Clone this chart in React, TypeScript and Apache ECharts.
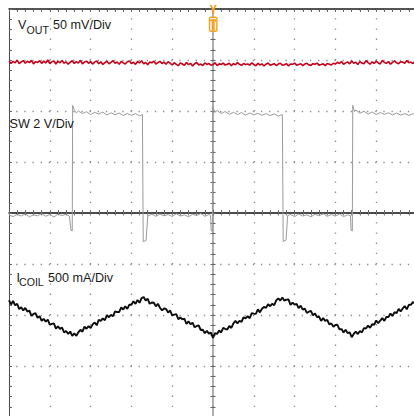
import React, { useEffect, useRef } from "react";
import * as echarts from "echarts";

// ---- Scope setup (screen divisions) ----
const X_DIVS = 10;
const Y_DIVS_HALF = 4;
const SAMPLE_STEP_DIV = 0.05; // sample spacing of VOUT / ICOIL records, in time divisions

// ---- Channel 1: VOUT ripple, mV (AC), 50 mV/Div ----
const VOUT_MV_PER_DIV = 50;
const VOUT_POSITION_DIV = 2.94;
const VOUT_MV = [
  2.1, -0.4, 1.6, 0.2, 2.8, -0.6, 1.2, 2.4, -0.2, 1.8, 0.4, 2.6, -0.8, 1.4, 0.6, 2.2, -0.3, 1.9, 0.1, 3.0,
  -0.5, 1.3, 2.0, -0.9, 1.7, 0.3, 2.5, -0.1, 1.1, -1.2, 0.8, 2.3, -0.4, 1.5, 0.0, 2.7, -0.7, 1.0, 1.9, -0.2,
  1.4, -1.0, 0.9, 2.1, -0.6, 1.2, -1.4, 0.5, 1.8, -0.8, 0.7, 2.4, -0.3, 1.0, -1.1, 1.6, 0.2, -0.9, 1.3, 2.0,
  -0.5, 0.8, -1.3, 1.5, 0.1, 2.2, -0.7, 0.6, -1.6, 1.1, 0.3, 1.9, -0.9, 0.4, 1.7, -0.4, 0.9, -1.2, 1.4, 0.0,
  -1.9, 0.4, -1.2, -2.6, 0.2, -0.9, -2.2, 0.6, -1.5, -0.3, -2.8, -0.7, 0.5, -1.8, -1.0, -2.4, 0.1, -1.3, -0.5, -2.1,
  -1.6, 0.3, -2.5, -0.8, -1.4, 0.0, -2.0, -1.1, -0.2, -2.7, -0.6, -1.7, 0.4, -1.2, -2.3, -0.4, -1.5, -0.9, -2.0, 0.2,
  -1.4, -2.6, -0.3, -1.9, -0.8, -2.9, -1.1, 0.1, -2.2, -1.5, -0.6, -2.4, -1.0, -0.2, -2.0, -1.7, -0.5, -2.8, -0.9, -1.3,
  0.0, -2.1, -1.4, -0.7, -2.5, -1.0, -0.3, -1.8, -2.3, -0.6, -1.2, -0.1, -2.0, -1.5, -0.8, -2.6, -0.4, -1.1, -1.9, -0.2,
  -1.0, 0.8, -0.5, 1.6, -1.3, 0.2, 1.1, -0.8, 2.0, -0.2, 0.9, -1.5, 1.4, 0.0, -0.7, 2.3, 0.5, -1.1, 1.2, -0.4,
  1.8, 0.1, -0.9, 2.6, 0.6, -0.3, 1.5, -1.2, 0.7, 2.1, 0.2, -0.6, 1.3, 0.9, -0.1, 2.4, 0.4, 1.0, -0.5, 1.7,
  0.8,
];

// ---- Channel 2: SW node, volts, 2 V/Div. [time div, volts] ----
const SW_V_PER_DIV = 2;
const SW_POSITION_DIV = 0;
const SW_POINTS: [number, number][] = [
  [0, -0.08], [0.1, -0.14], [0.2, -0.05], [0.3, -0.12], [0.4, -0.03], [0.5, -0.15], [0.6, -0.07], [0.7, -0.11],
  [0.8, -0.02], [0.9, -0.13], [1.0, -0.06], [1.1, -0.16], [1.2, -0.04], [1.3, -0.1], [1.4, -0.05], [1.48, -0.12],
  [1.52, -0.68], [1.55, -0.7],
  [1.56, 4.22], [1.6, 4.05], [1.65, 3.92], [1.7, 4.0], [1.8, 3.9], [1.9, 3.97], [2.0, 3.86], [2.1, 3.95], [2.2, 3.88],
  [2.3, 3.96], [2.4, 3.84], [2.5, 3.93], [2.6, 3.85], [2.7, 3.92], [2.8, 3.82], [2.9, 3.9], [3.0, 3.83], [3.1, 3.9],
  [3.2, 3.81], [3.27, 3.86],
  [3.29, -1.12], [3.36, -1.08], [3.4, -0.12],
  [3.5, -0.05], [3.6, -0.13], [3.7, -0.04], [3.8, -0.11], [3.9, -0.06], [4.0, -0.14], [4.1, -0.03], [4.2, -0.12],
  [4.3, -0.07], [4.4, -0.15], [4.5, -0.05], [4.6, -0.1], [4.7, -0.02], [4.8, -0.13], [4.9, -0.06], [4.94, -0.1],
  [4.955, -0.7], [4.985, -0.72],
  [4.995, 4.2], [5.04, 3.94], [5.1, 4.02], [5.2, 3.9], [5.3, 3.98], [5.4, 3.87], [5.5, 3.95], [5.6, 3.86], [5.7, 3.94],
  [5.8, 3.84], [5.9, 3.92], [6.0, 3.85], [6.1, 3.91], [6.2, 3.83], [6.3, 3.9], [6.4, 3.82], [6.5, 3.89], [6.6, 3.8],
  [6.7, 3.86],
  [6.72, -1.12], [6.79, -1.06], [6.83, -0.1],
  [6.9, -0.06], [7.0, -0.14], [7.1, -0.04], [7.2, -0.12], [7.3, -0.07], [7.4, -0.15], [7.5, -0.05], [7.6, -0.11],
  [7.7, -0.03], [7.8, -0.13], [7.9, -0.06], [8.0, -0.12], [8.1, -0.04], [8.2, -0.14], [8.3, -0.07], [8.37, -0.11],
  [8.385, -0.68], [8.415, -0.7],
  [8.425, 4.22], [8.47, 3.97], [8.5, 4.04], [8.6, 3.91], [8.7, 3.99], [8.8, 3.88], [8.9, 3.96], [9.0, 3.86],
  [9.1, 3.94], [9.2, 3.87], [9.3, 3.93], [9.4, 3.85], [9.5, 3.92], [9.6, 3.84], [9.7, 3.9], [9.8, 3.83], [9.9, 3.89],
  [10, 3.84],
];

// ---- Channel 3: ICOIL, mA, 500 mA/Div ----
const ICOIL_MA_PER_DIV = 500;
const ICOIL_POSITION_DIV = -4;
const ICOIL_MA = [
  1145, 1104, 1137, 1095, 1109, 1058, 1077, 1045, 1069, 1034,
  1043, 991, 1011, 1017, 973, 988, 943, 962, 935, 955,
  906, 913, 918, 866, 889, 864, 877, 830, 843, 815,
  838, 796, 819, 796, 830, 855, 836, 885, 865, 891,
  872, 908, 927, 899, 953, 942, 966, 949, 998, 978,
  1001, 988, 1036, 1029, 1028, 1075, 1054, 1085, 1060, 1101,
  1100, 1135, 1109, 1147, 1120, 1165, 1176, 1143, 1159, 1110,
  1122, 1120, 1085, 1110, 1071, 1045, 1064, 1060, 1025, 1044,
  997, 1004, 1009, 959, 976, 957, 963, 912, 939, 910,
  925, 879, 893, 897, 853, 856, 822, 845, 818, 828,
  775, 822, 814, 848, 829, 874, 865, 857, 893, 873,
  919, 942, 918, 944, 933, 978, 966, 990, 968, 1018,
  1014, 1011, 1055, 1026, 1061, 1080, 1070, 1106, 1086, 1110,
  1097, 1143, 1163, 1142, 1171, 1140, 1150, 1153, 1099, 1122,
  1101, 1108, 1068, 1092, 1053, 1062, 1020, 1032, 1041, 997,
  1015, 981, 983, 943, 969, 943, 953, 908, 918, 884,
  902, 904, 860, 862, 828, 855, 823, 829, 783, 814,
  837, 813, 843, 829, 871, 868, 897, 874, 909, 904,
  946, 920, 946, 969, 942, 982, 981, 1015, 990, 1028,
  1019, 1060, 1035, 1064, 1087, 1056, 1100, 1099, 1127, 1113,
  1139,
];

// ---- Channel labels ----
const LABEL_VOUT = { main: "V", sub: "OUT", scale: "50 mV/Div" };
const LABEL_SW = "SW 2 V/Div";
const LABEL_ICOIL = { main: "I", sub: "COIL", scale: "500 mA/Div" };

const FONT = '"Liberation Sans", Arial, Helvetica, sans-serif';
const TRIG = "#f4a11e";

const voutData = VOUT_MV.map((v, i) => [i * SAMPLE_STEP_DIV, VOUT_POSITION_DIV + v / VOUT_MV_PER_DIV]);
const swData = SW_POINTS.map(([t, v]) => [t, SW_POSITION_DIV + v / SW_V_PER_DIV]);
const icoilData = ICOIL_MA.map((v, i) => [i * SAMPLE_STEP_DIV, ICOIL_POSITION_DIV + v / ICOIL_MA_PER_DIV]);

const noLabel = { show: false };

function buildOption(): any {
  const xBase = { type: "value", min: 0, max: X_DIVS, interval: 1, axisLabel: noLabel, splitArea: { show: false } };
  const yBase = { type: "value", min: -Y_DIVS_HALF, max: Y_DIVS_HALF, interval: 1, axisLabel: noLabel, splitArea: { show: false } };
  return {
    animation: false,
    backgroundColor: "#ffffff",
    grid: { left: 9, top: 9, width: 408, height: 408, containLabel: false, outerBoundsMode: "none", show: false },
    xAxis: [
      {
        ...xBase,
        position: "top",
        axisLine: { show: true, onZero: false, lineStyle: { color: "#1e1e1e", width: 1.5 } },
        axisTick: { show: true, inside: true, length: 3, lineStyle: { color: "#666", width: 1 } },
        minorTick: { show: true, splitNumber: 5, length: 3, lineStyle: { color: "#666", width: 1 } },
        splitLine: { show: true, lineStyle: { color: "#8a8a8a", width: 1.3, type: [1.3, 8.9], dashOffset: 0.65 } },
        minorSplitLine: { show: false },
      },
      {
        ...xBase,
        position: "bottom",
        offset: -204,
        axisLine: { show: true, onZero: false, lineStyle: { color: "#111", width: 1.5 } },
        axisTick: { show: true, inside: true, length: 3, lineStyle: { color: "#666", width: 1 } },
        minorTick: { show: true, splitNumber: 5, length: 3, lineStyle: { color: "#666", width: 1 } },
        splitLine: { show: false },
      },
      {
        ...xBase,
        position: "bottom",
        offset: -204,
        axisLine: { show: false, onZero: false },
        axisTick: { show: true, inside: false, length: 2.5, lineStyle: { color: "#777", width: 1 } },
        minorTick: { show: true, splitNumber: 5, length: 2.5, lineStyle: { color: "#777", width: 1 } },
        splitLine: { show: false },
      },
    ],
    yAxis: [
      {
        ...yBase,
        position: "left",
        axisLine: { show: true, onZero: false, lineStyle: { color: "#4a4a4a", width: 1 } },
        axisTick: { show: true, inside: true, length: 3, lineStyle: { color: "#666", width: 1 } },
        minorTick: { show: true, splitNumber: 5, length: 3, lineStyle: { color: "#666", width: 1 } },
        splitLine: { show: true, lineStyle: { color: "#8a8a8a", width: 1.3, type: [1.3, 6.86], dashOffset: 0.65 } },
        minorSplitLine: { show: false },
      },
      {
        ...yBase,
        position: "right",
        offset: -204,
        axisLine: { show: true, onZero: false, lineStyle: { color: "#9c9c9c", width: 1.6 } },
        axisTick: { show: true, inside: true, length: 2.5, lineStyle: { color: "#666", width: 1 } },
        minorTick: { show: true, splitNumber: 5, length: 2.5, lineStyle: { color: "#666", width: 1 } },
        splitLine: { show: false },
      },
      {
        ...yBase,
        position: "right",
        offset: -204,
        axisLine: { show: false, onZero: false },
        axisTick: { show: true, inside: false, length: 2.5, lineStyle: { color: "#666", width: 1 } },
        minorTick: { show: true, splitNumber: 5, length: 2.5, lineStyle: { color: "#666", width: 1 } },
        splitLine: { show: false },
      },
    ],
    series: [
      {
        name: "ICOIL",
        type: "line",
        xAxisIndex: 0,
        yAxisIndex: 0,
        data: icoilData,
        showSymbol: false,
        symbol: "none",
        lineStyle: { color: "#0d0d0d", width: 1.9 },
        z: 3,
      },
      {
        name: "SW",
        type: "line",
        xAxisIndex: 0,
        yAxisIndex: 0,
        data: swData,
        showSymbol: false,
        symbol: "none",
        lineStyle: { color: "#9a9a9a", width: 1 },
        z: 4,
      },
      {
        name: "VOUT",
        type: "line",
        xAxisIndex: 0,
        yAxisIndex: 0,
        data: voutData,
        showSymbol: false,
        symbol: "none",
        lineStyle: { color: "#c4001a", width: 1.6 },
        z: 5,
      },
    ],
    graphic: [
      // channel labels
      { type: "text", x: 18, y: 25, z: 10, style: { text: LABEL_VOUT.main, font: `12.6px ${FONT}`, fill: "#1a1a1a", verticalAlign: "middle", textVerticalAlign: "middle" } },
      { type: "text", x: 26.6, y: 30, z: 10, style: { text: LABEL_VOUT.sub, font: `10.6px ${FONT}`, fill: "#1a1a1a", verticalAlign: "middle", textVerticalAlign: "middle" } },
      { type: "text", x: 53, y: 25, z: 10, style: { text: LABEL_VOUT.scale, font: `12.6px ${FONT}`, fill: "#1a1a1a", verticalAlign: "middle", textVerticalAlign: "middle" } },
      { type: "text", x: 9.5, y: 124.3, z: 10, style: { text: LABEL_SW, font: `12.6px ${FONT}`, fill: "#1a1a1a", verticalAlign: "middle", textVerticalAlign: "middle" } },
      { type: "text", x: 16.5, y: 277.5, z: 10, style: { text: LABEL_ICOIL.main, font: `12.6px ${FONT}`, fill: "#1a1a1a", verticalAlign: "middle", textVerticalAlign: "middle" } },
      { type: "text", x: 19, y: 281.5, z: 10, style: { text: LABEL_ICOIL.sub, font: `10.6px ${FONT}`, fill: "#1a1a1a", verticalAlign: "middle", textVerticalAlign: "middle" } },
      { type: "text", x: 48, y: 277.5, z: 10, style: { text: LABEL_ICOIL.scale, font: `12.6px ${FONT}`, fill: "#1a1a1a", verticalAlign: "middle", textVerticalAlign: "middle" } },
      // trigger position marker
      {
        type: "polygon",
        z: 10,
        shape: { points: [[209.6, 5], [211.6, 5], [213.2, 8.2], [214.8, 5], [216.8, 5], [214.3, 9.6], [214.3, 14], [212.1, 14], [212.1, 9.6]] },
        style: { fill: TRIG },
      },
      { type: "rect", z: 10, shape: { x: 208.8, y: 16.5, width: 8.8, height: 15.5, r: 2 }, style: { fill: TRIG } },
      { type: "rect", z: 11, shape: { x: 210.2, y: 18, width: 6, height: 12.4 }, style: { fill: "#ffffff" } },
      { type: "rect", z: 12, shape: { x: 210.2, y: 19.2, width: 6, height: 2.4 }, style: { fill: TRIG } },
      { type: "rect", z: 12, shape: { x: 211.7, y: 21.4, width: 3, height: 9.2 }, style: { fill: TRIG } },
    ],
  };
}

export default function App() {
  const ref = useRef<HTMLDivElement>(null);
  useEffect(() => {
    if (!ref.current) return;
    const chart = echarts.init(ref.current, null, { renderer: "svg" });
    chart.setOption(buildOption());
    return () => chart.dispose();
  }, []);
  return (
    <div
      ref={ref}
      style={{ position: "fixed", left: 0, top: 0, width: 420, height: 420, background: "#ffffff" }}
    />
  );
}
